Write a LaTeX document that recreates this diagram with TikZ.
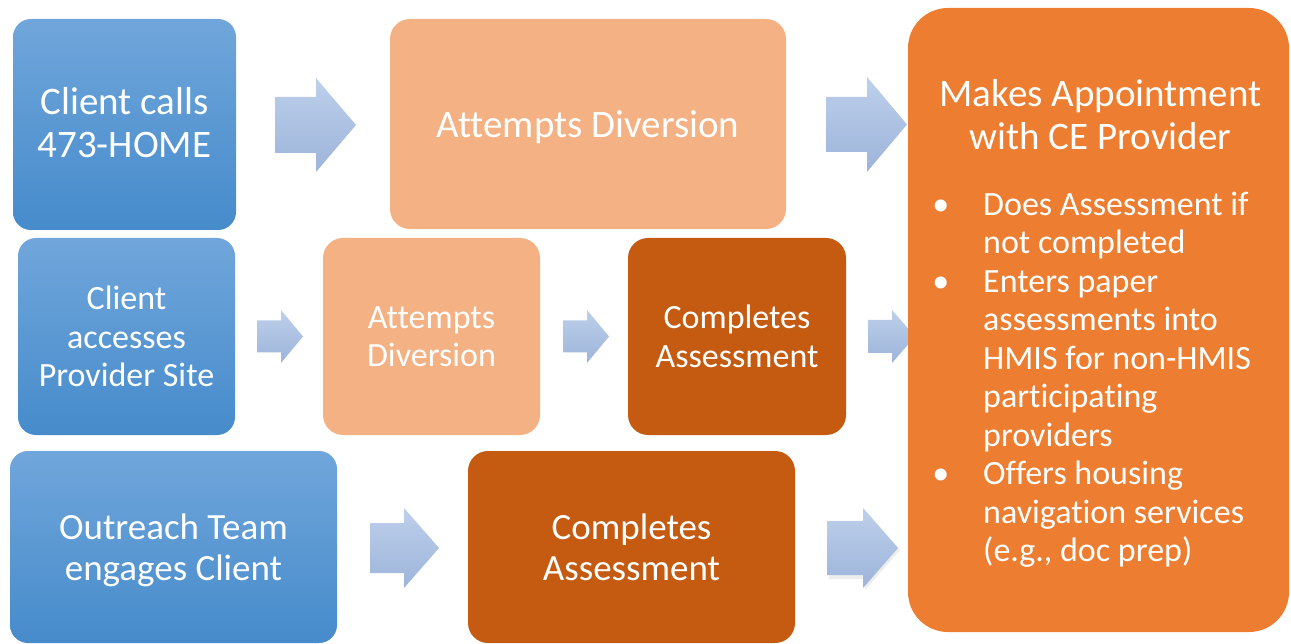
\documentclass[tikz,border=0pt]{standalone}
\usepackage{fontspec}
\setmainfont{Carlito}[Ligatures=NoCommon]
\definecolor{bluetop}{HTML}{70A6DB}
\definecolor{bluebot}{HTML}{468BCB}
\definecolor{peach}{HTML}{F4B183}
\definecolor{rust}{HTML}{C55A11}
\definecolor{orng}{HTML}{ED7D31}
\definecolor{arrtop}{HTML}{BDD0EB}
\definecolor{arrbot}{HTML}{9DB4DA}
\newcommand\fsz[2]{\fontsize{#1pt}{#2pt}\selectfont}
\newcommand\blockarr[6]{%
  \path[arrowfill] (#1,#4-#5) -- (#2,#4-#5) -- (#2,#4-#6) -- (#3,#4)
    -- (#2,#4+#6) -- (#2,#4+#5) -- (#1,#4+#5) -- cycle;}
\newcommand\shiftlines[2]{\raisebox{#1}[\height][\depth]{\begin{tabular}{@{}c@{}}#2\end{tabular}}}
\begin{document}
\begin{tikzpicture}[x=1pt,y=-1pt,
  boxbase/.style={inner sep=0pt, text=white, align=center},
  bluebox/.style={boxbase, top color=bluetop, bottom color=bluebot, rounded corners=18pt},
  peachbox/.style={boxbase, fill=peach, rounded corners=20pt},
  rustbox/.style={boxbase, fill=rust, rounded corners=20pt},
  bigbox/.style={boxbase, fill=orng, rounded corners=40pt},
  arrowfill/.style={top color=arrtop, bottom color=arrbot},
  bigtext/.style={font=\fsz{39}{43.5}},
  midtext/.style={font=\fsz{34}{38.5}},
  lowtext/.style={font=\fsz{37}{41}}]
\useasboundingbox (0,0) rectangle (1291,644);
% block arrows
\blockarr{275}{316}{356}{125}{28}{47}
\blockarr{826}{867}{907}{124.5}{27.5}{47.5}
\blockarr{257}{281}{303}{336.5}{16}{26.5}
\blockarr{563}{587}{609}{336.5}{16}{26.5}
\blockarr{868}{892}{915}{336.5}{16.5}{26.5}
\blockarr{370}{404}{439}{548}{25}{40}
\path[fill=black!40, opacity=0.18] (829,525) -- (865,525) -- (865,510) -- (900,550) -- (865,590) -- (865,579) -- (829,579) -- cycle;
\blockarr{827}{863}{898}{548}{27}{40}
% boxes
\node[bluebox, bigtext, minimum width=223, minimum height=211] (calls) at (124.5,124.5) {\shiftlines{-3pt}{Client calls\\473-HOME}};
\node[peachbox, bigtext, text depth=0pt, minimum width=396, minimum height=210] (divtop) at (588,124) {Attempts Diversion};
\node[bigbox, minimum width=381, minimum height=624] (appt) at (1098.5,320) {};
\node[bluebox, midtext, minimum width=217, minimum height=197] (site) at (126.5,336.5) {Client\\accesses\\Provider Site};
\node[peachbox, midtext, minimum width=217, minimum height=197] (divmid) at (431.5,336.5) {Attempts\\Diversion};
\node[rustbox, midtext, minimum width=218, minimum height=197] (assessmid) at (737,336.5) {Completes\\Assessment};
\node[bluebox, lowtext, minimum width=327, minimum height=192] (outreach) at (173.5,547) {\shiftlines{-5pt}{Outreach Team\\engages Client}};
\node[rustbox, lowtext, minimum width=327, minimum height=192] (assessbot) at (631.5,547) {Completes\\Assessment};
% text of the large box
\node[boxbase, bigtext] (appttitle) at (1100.5,114.5) {Makes Appointment\\with CE Provider};
\node[boxbase, midtext, align=left, anchor=base west] (apptlist) at (983,561.5)
 {\llap{\textbullet\hspace{34pt}}Does Assessment if\\
  not completed\\
  \llap{\textbullet\hspace{34pt}}Enters paper\\
  assessments into\\
  HMIS for non-HMIS\\
  participating\\
  providers\\
  \llap{\textbullet\hspace{34pt}}Offers housing\\
  navigation services\\
  (e.g., doc prep)};
\end{tikzpicture}
\end{document}
